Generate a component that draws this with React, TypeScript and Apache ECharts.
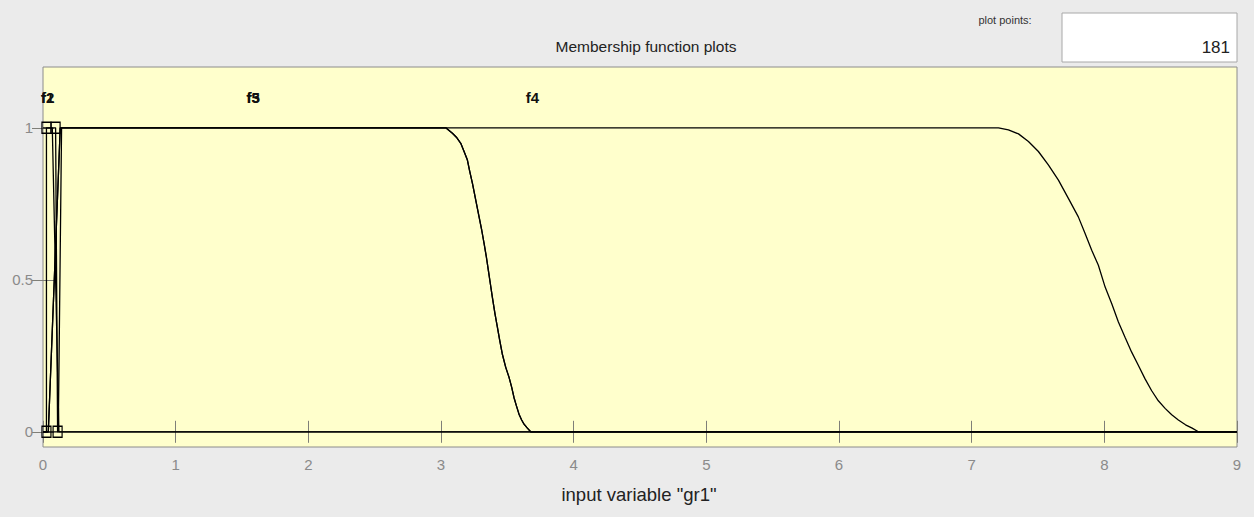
import React, { useEffect, useRef } from "react";
import * as echarts from "echarts";

// ---- data ----
const X_TICKS = [0, 1, 2, 3, 4, 5, 6, 7, 8, 9];
const Y_TICKS = [0, 0.5, 1];

const f1X = [0, 0.026, 0.026, 0.095, 0.11, 9];
const f1Y = [0, 0, 1, 1, 0, 0];

const f2X = [0, 0.07, 0.12, 9];
const f2Y = [1, 1, 0, 0];

const f3X = [
  0, 0.04, 0.13, 3.036, 3.061, 3.086, 3.116, 3.149, 3.174, 3.199, 3.217, 3.237, 3.262, 3.287, 3.307,
  3.325, 3.342, 3.357, 3.372, 3.387, 3.407, 3.425, 3.443, 3.462, 3.488, 3.513, 3.533, 3.55, 3.568,
  3.588, 3.608, 3.626, 3.651, 3.676, 9,
];
const f3Y = [
  0, 0, 1, 1, 0.991, 0.982, 0.969, 0.949, 0.922, 0.894, 0.856, 0.817, 0.762, 0.707, 0.663,
  0.619, 0.575, 0.531, 0.487, 0.443, 0.388, 0.344, 0.3, 0.256, 0.212, 0.179, 0.146, 0.113, 0.086,
  0.058, 0.039, 0.025, 0.012, 0, 0,
];

const f4X = [
  0, 0.115, 0.14, 7.202, 7.277, 7.353, 7.428, 7.503, 7.578, 7.654, 7.729, 7.804, 7.855, 7.905, 7.955,
  8.006, 8.056, 8.106, 8.156, 8.206, 8.257, 8.307, 8.357, 8.407, 8.458, 8.508, 8.558, 8.612, 8.662,
  8.709, 9,
];
const f4Y = [
  0, 0, 1, 1, 0.993, 0.98, 0.955, 0.922, 0.878, 0.828, 0.768, 0.707, 0.652, 0.597, 0.548,
  0.476, 0.421, 0.361, 0.311, 0.262, 0.218, 0.174, 0.135, 0.102, 0.077, 0.056, 0.039, 0.023, 0.012,
  0, 0,
];

// f5 coincides with f3
const f5X = f3X;
const f5Y = f3Y;

const squareX = [0.026, 0.095, 0.026, 0.11];
const squareY = [1, 1, 0, 0];

const mfNames = ["f1", "f2", "f3", "f5", "f4"];
const mfLabelX = [0.035, 0.035, 1.585, 1.585, 3.69];
const mfLabelY = [1.1, 1.1, 1.1, 1.1, 1.1];

const TITLE = "Membership function plots";
const X_NAME = 'input variable "gr1"';
const PLOT_POINTS = "181";

const zip = (xs: number[], ys: number[]) => xs.map((x, i) => [x, ys[i]]);

export default function App() {
  const ref = useRef<HTMLDivElement>(null);

  useEffect(() => {
    document.body.style.margin = "0";
    const chart = echarts.init(ref.current!, null, { renderer: "svg" });
    const font = "'Liberation Sans', Arial, sans-serif";
    const lineSeries = (name: string, xs: number[], ys: number[]) => ({
      name,
      type: "line",
      data: zip(xs, ys),
      showSymbol: false,
      symbol: "none",
      lineStyle: { color: "#000", width: 1.3 },
      z: 3,
    });
    const tickStyle = { inside: true, length: 11, lineStyle: { color: "#7f7f78", width: 1 } };
    const labelStyle = { color: "#8a8a8a", fontSize: 15, fontFamily: font, margin: 10 };

    chart.setOption({
      animation: false,
      backgroundColor: "#ebebeb",
      grid: {
        left: 43,
        right: 17,
        top: 67,
        bottom: 70,
        show: true,
        backgroundColor: "#ffffcc",
        borderColor: "#8c8c8c",
        borderWidth: 1,
      },
      xAxis: [
        {
          type: "value",
          min: X_TICKS[0],
          max: X_TICKS[X_TICKS.length - 1],
          interval: 1,
          position: "bottom",
          axisLine: { show: false },
          axisTick: tickStyle,
          axisLabel: labelStyle,
          splitLine: { show: false },
        },
        {
          type: "value",
          min: X_TICKS[0],
          max: X_TICKS[X_TICKS.length - 1],
          interval: 1,
          position: "top",
          axisLine: { show: false },
          axisTick: tickStyle,
          axisLabel: { show: false },
          splitLine: { show: false },
        },
      ],
      yAxis: [
        {
          type: "value",
          min: -0.05,
          max: 1.2,
          position: "left",
          axisLine: { show: false },
          axisTick: { ...tickStyle, customValues: Y_TICKS },
          axisLabel: { ...labelStyle, customValues: Y_TICKS },
          splitLine: { show: false },
        },
        {
          type: "value",
          min: -0.05,
          max: 1.2,
          position: "right",
          axisLine: { show: false },
          axisTick: { ...tickStyle, customValues: Y_TICKS },
          axisLabel: { show: false, customValues: Y_TICKS },
          splitLine: { show: false },
        },
      ],
      series: [
        lineSeries("f1", f1X, f1Y),
        lineSeries("f2", f2X, f2Y),
        lineSeries("f3", f3X, f3Y),
        lineSeries("f5", f5X, f5Y),
        lineSeries("f4", f4X, f4Y),
        {
          name: "vertices",
          type: "scatter",
          data: zip(squareX, squareY),
          symbol: "rect",
          symbolSize: [9, 11],
          itemStyle: { color: "rgba(0,0,0,0)", borderColor: "#000", borderWidth: 1.3, opacity: 1 },
          z: 4,
        },
        {
          name: "labels",
          type: "scatter",
          data: mfNames.map((n, i) => ({ name: n, value: [mfLabelX[i], mfLabelY[i]] })),
          symbolSize: 0,
          itemStyle: { color: "#000", opacity: 1 },
          label: {
            show: true,
            position: "inside",
            formatter: (p: any) => p.name,
            color: "#111",
            opacity: 1,
            textBorderWidth: 0,
            fontSize: 15,
            fontWeight: "bold",
            fontFamily: font,
          },
          z: 5,
        },
      ],
      graphic: [
        {
          type: "text",
          x: 646,
          y: 46,
          style: {
            text: TITLE,
            fill: "#222",
            font: `15.5px ${font}`,
            textAlign: "center",
            textVerticalAlign: "middle",
          },
        },
        {
          type: "text",
          x: 639,
          y: 494,
          style: {
            text: X_NAME,
            fill: "#222",
            font: `18.5px ${font}`,
            textAlign: "center",
            textVerticalAlign: "middle",
          },
        },
        {
          type: "text",
          x: 1005,
          y: 20,
          style: {
            text: "plot points:",
            fill: "#333",
            font: `11px ${font}`,
            textAlign: "center",
            textVerticalAlign: "middle",
          },
        },
        {
          type: "rect",
          shape: { x: 1062, y: 13, width: 175, height: 49 },
          style: { fill: "#ffffff", stroke: "#a8a8a8", lineWidth: 1 },
        },
        {
          type: "text",
          x: 1230,
          y: 47,
          style: {
            text: PLOT_POINTS,
            fill: "#222",
            font: `17px ${font}`,
            textAlign: "right",
            textVerticalAlign: "middle",
          },
        },
      ],
    });
    return () => chart.dispose();
  }, []);

  return <div ref={ref} style={{ width: 1254, height: 517 }} />;
}
